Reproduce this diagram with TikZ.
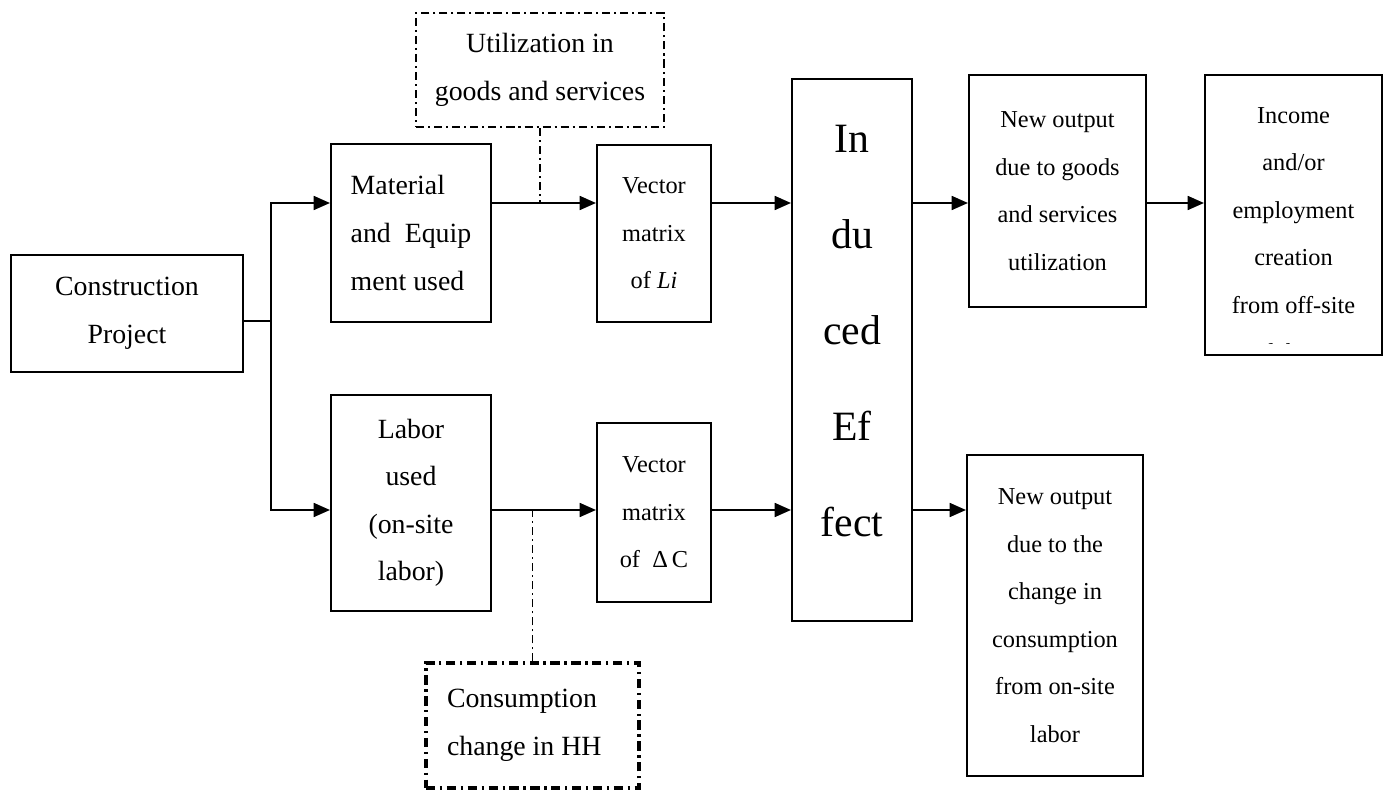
\documentclass[tikz,border=0pt]{standalone}
\usepackage{fontspec}
\setmainfont{Liberation Serif}
\usetikzlibrary{arrows.meta}
\newcommand{\pxl}{0.43134pt}

\begin{document}
\begin{tikzpicture}[x=\pxl, y=-\pxl,
        box/.style={draw, line width=0.9pt, inner sep=0pt, align=center},
        sz/.style 2 args={minimum width=#1*\pxl, minimum height=#2*\pxl},
        dashbox/.style={draw, line width=0.9pt, inner sep=0pt,
            dash pattern=on 3.5pt off 1.7pt on 0.9pt off 1.7pt},
        bigtxt/.style={font=\fontsize{12}{20.5}\selectfont},
        smalltxt/.style={font=\fontsize{10.5}{20.5}\selectfont},
        link/.style={line width=0.8pt, -{Triangle[length=7pt,width=6pt]}},
        dashlink/.style={line width=0.7pt, dash pattern=on 3.5pt off 1.7pt on 0.9pt off 1.7pt}]
        \useasboundingbox (0,0) rectangle (1391,790);
        \coordinate (top) at (0,203);
        \coordinate (bot) at (0,510);
        \coordinate (jn) at (271,321);

        \node[box, bigtxt, sz={232}{117}] (proj) at (127,313.5) {Construction\\Project};
        \node[box, bigtxt, sz={160}{178}, align=left] (mat) at (411,233) {Material\\and\ \ Equip\\ment used};
        \node[box, bigtxt, sz={160}{216}] (lab) at (411,503) {Labor\\used\\(on-site\\labor)};
        \node[dashbox, bigtxt, sz={248}{114}, align=center] (util) at (540,70) {Utilization in\\goods and services};
        \node[dashbox, bigtxt, line width=1.3pt, sz={213}{125}, align=flush left,
            text width=171*\pxl, inner xsep=21*\pxl,
            dash pattern=on 4pt off 2pt on 1pt off 2pt] (cons) at (532.5,725.5) {Consumption\\change in HH};
        \node[box, smalltxt, sz={114}{177}] (vli) at (654,233.5) {Vector\\matrix\\of \textit{Li}};
        \node[box, smalltxt, sz={114}{179}] (vdc) at (654,512.5) {Vector\\matrix\\of\ \ Δ\,C};
        \node[box, sz={120}{542}] (ind) at (852,350) {};
        \node[font=\fontsize{18}{41.5}\selectfont, align=center] (indlbl) at (852,331) {In\\du\\ced\\Ef\\fect};
        \node[box, smalltxt, sz={177}{232}] (out1) at (1057.5,191) {New output\\due to goods\\and services\\utilization};
        \node[box, smalltxt, sz={176}{321}] (out2) at (1055,615.5) {New output\\due to the\\change in\\consumption\\from on-site\\labor};
        \node[box, sz={177}{280}] (inc) at (1293.5,215) {};
        \begin{scope}
            \clip (1205,75) rectangle (1382,344);
            \node[smalltxt, align=center] (inclbl) at (1293.5,234) {Income\\and/or\\employment\\creation\\from off-site\\labor};
        \end{scope}

        % branch from the project
        \draw[line width=0.8pt] (proj.east |- jn) -- (jn);
        \draw[link] (jn) |- (mat.west |- top);
        \draw[link] (jn) |- (lab.west |- bot);

        % upper and lower rows
        \foreach \a/\b in {mat/vli, vli/ind, ind/out1, out1/inc}{
            \draw[link] (\a.east |- top) -- (\b.west |- top);
        }
        \foreach \a/\b in {lab/vdc, vdc/ind, ind/out2}{
            \draw[link] (\a.east |- bot) -- (\b.west |- bot);
        }

        \draw[dashlink] (util.south) -- (util.south |- top);
        \draw[dashlink] (cons.north) -- (cons.north |- bot);
    \end{tikzpicture}
\end{document}
